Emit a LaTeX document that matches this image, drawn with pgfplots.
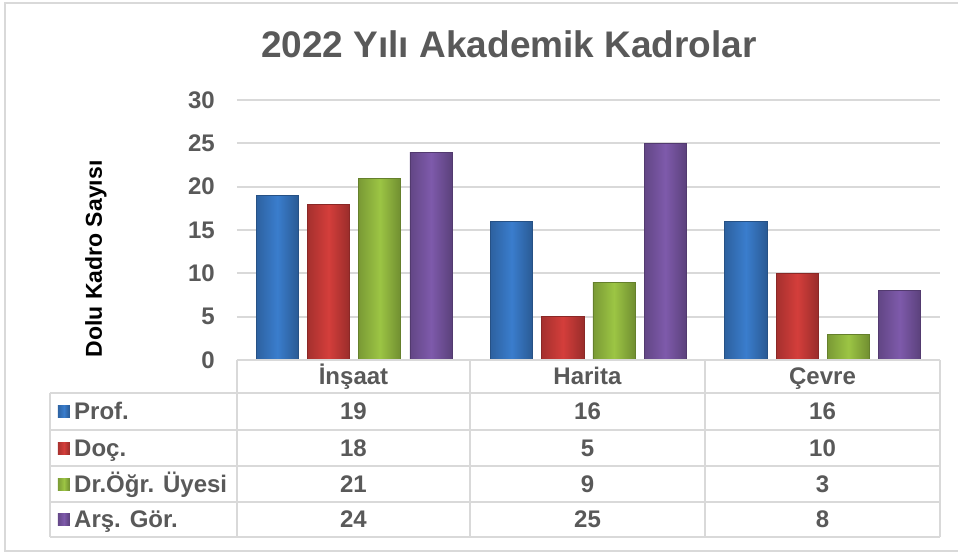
\documentclass[border=0pt]{standalone}
\usepackage{pgfplots}
\pgfplotsset{compat=1.18}
\usepackage{fontspec}
\setmainfont{Liberation Sans}

\definecolor{txt}{HTML}{595959}
\definecolor{gridc}{HTML}{D9D9D9}
\definecolor{cprof}{HTML}{3A7DCD}
\definecolor{cdoc}{HTML}{D43E3B}
\definecolor{cdr}{HTML}{9CC544}
\definecolor{cars}{HTML}{7E5AAB}

\tikzset{
  barstyle/.style={ybar, bar width=0.18, draw=#1!65!black, line width=0.8pt,
    left color=#1!78!black, right color=#1!72!black, middle color=#1},
  tline/.style={draw=gridc, line width=2pt},
  ttext/.style={text=txt, font=\bfseries\fontsize{24}{28}\selectfont,
                text height=19pt, text depth=3pt},
}

\begin{document}
\begin{tikzpicture}[x=1pt, y=1pt]
\useasboundingbox (-237,-192) rectangle (721,360);
% outer frame
\draw[draw=gridc, line width=2.5pt] (-232,-191) rectangle (730,357);

\begin{axis}[
  at={(0,0)}, anchor=south west,
  scale only axis, width=703pt, height=260pt,
  xmin=-0.5, xmax=2.5, ymin=0, ymax=30,
  xtick=\empty, ytick={0,5,...,30},
  axis line style={draw=none}, major tick length=0pt,
  ymajorgrids, grid style={draw=gridc, line width=2pt},
  /pgf/number format/assume math mode=true,
  yticklabel style={text=txt, font=\bfseries\fontsize{24}{28}\selectfont,
                    anchor=east, inner sep=0pt, xshift=-22pt},
  clip=false,
]
% Prof.
\addplot[barstyle=cprof, bar shift=-0.328] coordinates {(0,19)};
\addplot[barstyle=cprof, bar shift=-0.328] coordinates {(1,16)};
\addplot[barstyle=cprof, bar shift=-0.328] coordinates {(2,16)};
% Doç.
\addplot[barstyle=cdoc, bar shift=-0.109] coordinates {(0,18)};
\addplot[barstyle=cdoc, bar shift=-0.109] coordinates {(1,5)};
\addplot[barstyle=cdoc, bar shift=-0.109] coordinates {(2,10)};
% Dr.Öğr. Üyesi
\addplot[barstyle=cdr, bar shift=0.109] coordinates {(0,21)};
\addplot[barstyle=cdr, bar shift=0.109] coordinates {(1,9)};
\addplot[barstyle=cdr, bar shift=0.109] coordinates {(2,3)};
% Arş. Gör.
\addplot[barstyle=cars, bar shift=0.328] coordinates {(0,24)};
\addplot[barstyle=cars, bar shift=0.328] coordinates {(1,25)};
\addplot[barstyle=cars, bar shift=0.328] coordinates {(2,8)};
\end{axis}

% title and y label
\node[text=txt, font=\bfseries\fontsize{37}{42}\selectfont] at (272,316) {2022 Yılı Akademik Kadrolar};
\node[rotate=90, font=\bfseries\fontsize{23}{27}\selectfont] at (-141,101) {Dolu Kadro Sayısı};

% data table
\draw[tline] (0,0) -- (703,0);
\foreach \y in {-33,-70,-106,-142,-177} \draw[tline] (-187,\y) -- (703,\y);
\draw[tline] (-187,-33) -- (-187,-177);
\foreach \x in {0,233,468,703} \draw[tline] (\x,0) -- (\x,-177);

\node[ttext] at (116.5,-16.5) {İnşaat};
\node[ttext] at (350.5,-16.5) {Harita};
\node[ttext] at (585.5,-16.5) {Çevre};

\foreach \y/\c/\n/\a/\b/\d in {-51.5/cprof/Prof./19/16/16,
                                -88/cdoc/Doç./18/5/10,
                                -124/cdr/Dr.Öğr. Üyesi/21/9/3,
                                -159.5/cars/Arş. Gör./24/25/8}{
  \fill[left color=\c!80!black, right color=\c!70!black, middle color=\c] (-179,\y-6) rectangle (-167,\y+6);
  \node[ttext, anchor=west, inner sep=0pt] at (-163,\y) {\n};
  \node[ttext] at (116.5,\y) {\a};
  \node[ttext] at (350.5,\y) {\b};
  \node[ttext] at (585.5,\y) {\d};
}
\end{tikzpicture}
\end{document}
